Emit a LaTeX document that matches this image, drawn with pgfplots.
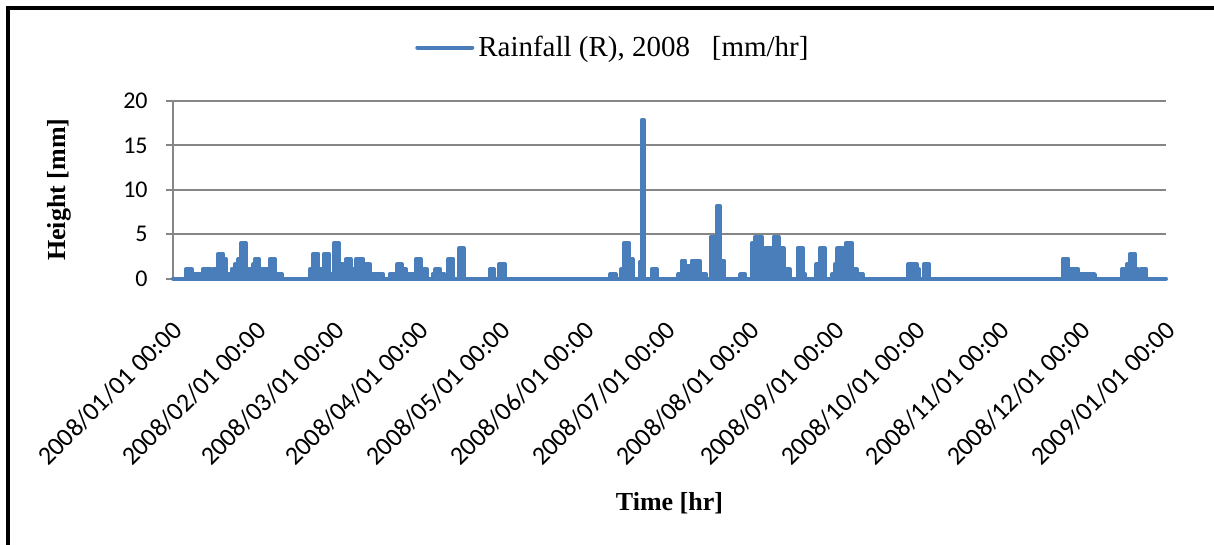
\documentclass[border=0pt]{standalone}
\usepackage{fontspec}
\setmainfont{Liberation Serif}
\newfontfamily\calibri{Carlito}
\usepackage{pgfplots}
\pgfplotsset{compat=1.18}
\definecolor{rain}{RGB}{74,126,187}
\definecolor{gridgray}{RGB}{134,134,134}
\begin{document}
\begin{tikzpicture}
\useasboundingbox (0,0) rectangle (607pt,-272.5pt);
\draw[black, line width=2pt] (4pt,-272.5pt) -- (4pt,-4pt) -- (607pt,-4pt);
\begin{axis}[
  at={(86.5pt,-139.25pt)}, anchor=south west,
  scale only axis, width=496.5pt, height=88.75pt,
  xmin=0, xmax=366, ymin=0, ymax=20,
  axis x line*=bottom, axis y line*=left,
  axis line style={gridgray, line width=1pt},
  xtick={0,31,60,91,121,152,182,213,244,274,305,335,366},
  xticklabels={2008/01/01 00:00,2008/02/01 00:00,2008/03/01 00:00,2008/04/01 00:00,2008/05/01 00:00,2008/06/01 00:00,2008/07/01 00:00,2008/08/01 00:00,2008/09/01 00:00,2008/10/01 00:00,2008/11/01 00:00,2008/12/01 00:00,2009/01/01 00:00},
  ytick={0,5,10,15,20},
  ymajorgrids, grid style={gridgray, line width=1pt},
  major tick length=3.5pt,
  tick align=outside,
  x tick style={draw=none},
  y tick style={gridgray, line width=1pt},
  tick label style={font=\calibri\fontsize{12pt}{14pt}\selectfont},
  /pgf/number format/assume math mode=true,
  yticklabel style={anchor=east, inner sep=0pt, xshift=-9pt},
  xticklabel style={font=\calibri\fontsize{13pt}{15pt}\selectfont, inner sep=0pt, xshift=2.3pt, yshift=-20pt, rotate=45, anchor=east},
  xlabel={Time [hr]}, ylabel={Height [mm]},
  label style={font=\bfseries\fontsize{13pt}{15pt}\selectfont},
  xlabel style={at={(axis description cs:0.5,-1.265)}, anchor=center},
  ylabel style={at={(axis description cs:-0.1148,0.5)}, anchor=center},
  legend style={at={(axis description cs:0.444,1.301)}, anchor=center, draw=none, fill=none, font=\fontsize{14.5pt}{17pt}\selectfont, inner sep=0pt},
  legend image code/.code={\draw[rain, line width=2pt, line cap=round] (0pt,0pt) -- (27.5pt,0pt);},
  clip=false,
]
\addplot[rain, fill=rain, line width=2pt, line join=round, line cap=round, const plot] coordinates {
(0,0)
(4.8,1.05)(6.9,0)(7.5,0.5)(11.0,1.05)(13.9,0.5)(14.9,1.05)(16.7,2.8)(18.5,2.2)(19.5,0.5)(21.6,1.05)(22.8,1.6)(24.1,2.2)(25.1,4.0)(26.8,0.5)(28.1,1.05)(29.6,1.6)(30.2,2.2)(31.7,1.05)(35.7,2.2)(37.6,0.5)(40.1,0)
(50.5,1.05)(51.7,2.8)(53.6,1.05)(55.4,0)(55.8,2.8)(57.5,0.5)(59.4,4.0)(61.2,1.6)(62.8,0.5)(63.8,2.2)(65.5,1.05)(67.5,2.2)(70.1,1.6)(72.6,0.5)(74.0,0)(74.5,0.5)(77.5,0)
(79.8,0.5)(82.7,1.6)(84.3,1.05)(85.9,0.5)(89.2,0)(89.6,2.2)(91.3,1.05)(93.5,0)
(95.7,0.5)(96.7,1.05)(98.4,0.5)(100.2,0)(101.5,2.2)(103.3,0)(105.5,3.4)(107.2,0)
(116.8,1.05)(118.3,0)(120.2,1.6)(122.4,0)
(161.2,0.5)(163.1,0)(165.3,1.05)(166.3,4.0)(168.1,2.2)(169.4,0)(172.1,1.9)(172.9,17.9)(173.5,0)
(176.4,1.05)(178.3,0)(186.3,0.5)(187.5,2.0)(188.8,1.4)(191.2,2.0)(194.1,0.5)(196.5,0)(198.2,4.7)(200.5,8.2)(201.5,2.0)(203.2,0)
(209.0,0.5)(210.9,0)(213.4,4.0)(214.6,4.7)(217.1,2.2)(218.3,3.4)(220.8,2.2)(221.4,4.7)(223.2,3.4)(225.1,1.05)(227.3,0)
(230.2,3.4)(232.2,0.5)(233.1,0)(237.1,1.6)(238.4,3.4)(240.2,0)(242.8,0.5)(244.0,1.6)(244.9,3.4)(247.1,1.05)(248.1,4.0)(250.2,1.05)(252.0,0.5)(254.2,0)
(271.0,1.6)(274.1,1.05)(275.1,0)(276.8,1.6)(278.8,0)
(328.0,2.2)(330.0,0)(330.6,1.05)(333.7,0.5)(339.8,0)
(349.7,1.05)(351.5,1.6)(352.8,2.8)(354.6,1.05)(355.8,0)(356.7,1.05)(358.7,0)(366,0)
} \closedcycle;
\addlegendentry{Rainfall (R), 2008\ \ \ [mm/hr]}
\end{axis}
\end{tikzpicture}
\end{document}
